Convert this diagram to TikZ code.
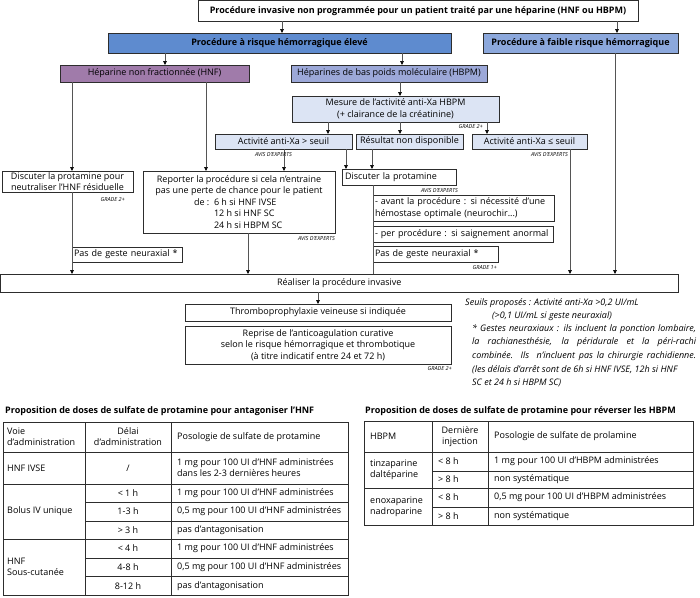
\documentclass[tikz,border=0pt]{standalone}
\usepackage{fontspec}
\setmainfont{Open Sans}
\usetikzlibrary{arrows.meta}
\definecolor{bigblue}{RGB}{94,139,207}
\definecolor{lowblue}{RGB}{140,168,220}
\definecolor{hnfpur}{RGB}{160,123,170}
\definecolor{hbpmlav}{RGB}{156,168,216}
\definecolor{lightbl}{RGB}{220,228,244}
\definecolor{linegr}{RGB}{85,85,85}
\definecolor{bordgr}{RGB}{45,45,45}
\newcommand{\fs}{\fontsize{9}{11.5}\selectfont}
\newcommand{\fsb}{\fontsize{9}{11.5}\selectfont\bfseries}
\newcommand{\bx}[7]{\node[#6, minimum width=#4pt-#2pt, minimum height=#5pt-#3pt] (#1) at ({(#2+#4)/2},{(#3+#5)/2}) {#7};}
\begin{document}
\begin{tikzpicture}[x=1pt,y=-1pt,
  box/.style={draw=bordgr, line width=0.7pt, inner xsep=3pt, inner ysep=1pt, outer sep=0pt, font=\fs, align=center},
  arr/.style={draw=linegr, line width=0.6pt, -{Triangle[length=4pt,width=3.6pt,color=black]}},
  ln/.style={draw=linegr, line width=0.6pt},
  grade/.style={font=\fontsize{5.5}{6}\selectfont\itshape, inner sep=0pt, anchor=east},
  fn/.style={font=\fontsize{9}{11}\selectfont\itshape, inner sep=0pt},
  cell/.style={font=\fontsize{9}{11}\selectfont, inner sep=0pt, align=left},
  ttl/.style={font=\fsb, inner sep=0pt, anchor=west},
  tb/.style={draw=bordgr, line width=0.6pt},
  tbo/.style={draw=bordgr, line width=1pt}]
\useasboundingbox (0,0) rectangle (700,597);

% ---- flowchart boxes
\bx{top}{198}{0.5}{638}{21}{box,font=\fsb}{Procédure invasive non programmée pour un patient traité par une héparine (HNF ou HBPM)}
\bx{big}{108}{33}{451}{53}{box,fill=bigblue,font=\fsb}{Procédure à risque hémorragique élevé}
\bx{low}{483}{33}{678}{53}{box,fill=lowblue,font=\fsb}{Procédure à faible risque hémorragique}
\bx{hnf}{60}{65}{249}{82}{box,fill=hnfpur}{Héparine non fractionnée (HNF)}
\bx{hbpm}{291}{65}{487}{82}{box,fill=hbpmlav}{Héparines de bas poids moléculaire (HBPM)}
\bx{mes}{292}{96}{499}{122}{box,fill=lightbl}{Mesure de l’activité anti-Xa HBPM\\(+ clairance de la créatinine)}
\bx{sup}{215}{134}{352}{149}{box,fill=lightbl}{Activité anti-Xa > seuil}
\bx{res}{356}{134}{463}{149}{box,fill=lightbl}{Résultat non disponible}
\bx{inf}{472}{134}{587}{149}{box,fill=lightbl}{Activité anti-Xa ≤ seuil}
\bx{dhnf}{2}{171}{133}{192}{box}{Discuter la protamine pour\\neutraliser l’HNF résiduelle}
\bx{rep}{143}{171}{335}{233}{box}{Reporter la procédure si cela n’entraine\\pas une perte de chance pour le patient\\\makebox[0pt][r]{de :\ \ }\makebox[50pt][l]{6 h si HNF IVSE}\\\makebox[50pt][l]{12 h si HNF SC}\\\makebox[50pt][l]{24 h si HBPM SC}}
\bx{dpro}{342}{169}{456}{185}{box,text width=108pt,align=left}{Discuter la protamine}
\bx{avant}{373}{195}{554}{221}{box,text width=177pt,align=left,inner xsep=2pt}{- avant la procédure : si nécessité d’une\\hémostase optimale (neurochir...)}
\bx{per}{373}{226}{553}{242}{box,text width=176pt,align=left,inner xsep=2pt}{- per procédure : si saignement anormal}
\bx{pasb}{373}{246}{498}{262}{box,text width=121pt,align=left,inner xsep=2pt}{Pas de geste neuraxial *}
\bx{pasa}{72}{247}{182}{262}{box,text width=106pt,align=left,inner xsep=2pt}{Pas de geste neuraxial *}
\bx{real}{0.5}{274}{678}{292}{box}{Réaliser la procédure invasive}
\bx{thr}{185}{304}{451}{321}{box}{Thromboprophylaxie veineuse si indiquée}
\bx{rep2}{185}{326}{451}{364}{box}{Reprise de l’anticoagulation curative\\selon le risque hémorragique et thrombotique\\(à titre indicatif entre 24 et 72 h)}

% ---- connectors
\draw[arr] (282,0 |- top.south) -- (282,0 |- big.north);
\draw[arr] (617,0 |- top.south) -- (617,0 |- low.north);
\draw[arr] (165,0 |- big.south) -- (165,0 |- hnf.north);
\draw[arr] (402,0 |- big.south) -- (402,0 |- hbpm.north);
\draw[arr] (72,0 |- hnf.south) -- (72,0 |- dhnf.north);
\draw[arr] (206,0 |- hnf.south) -- (206,0 |- rep.north);
\draw[arr] (400,0 |- hbpm.south) -- (400,0 |- mes.north);
\draw[arr] (328,0 |- mes.south) -- (328,0 |- sup.north);
\draw[arr] (400,0 |- mes.south) -- (400,0 |- res.north);
\draw[arr] (487,0 |- mes.south) -- (487,0 |- inf.north);
\draw[arr] (284,0 |- sup.south) -- (284,0 |- rep.north);
\draw[arr] (346,0 |- sup.south) -- (346,0 |- dpro.north);
\draw[arr] (372,0 |- res.south) -- (372,0 |- dpro.north);
\draw[arr] (570,0 |- inf.south) -- (570,0 |- real.north);
\draw[arr] (615,0 |- low.south) -- (615,0 |- real.north);
\draw[arr] (72,0 |- dhnf.south) -- (72,0 |- real.north);
\draw[arr] (248,0 |- rep.south) -- (248,0 |- real.north);
\draw[ln] (373,0 |- dpro.south) -- (373,0 |- real.north);
\draw[arr] (318,0 |- real.south) -- (318,0 |- thr.north);

% ---- grade labels
\node[grade] (g1) at (483,126.5) {GRADE 2+};
\node[grade] (g2) at (292,155) {AVIS D’EXPERTS};
\node[grade] (g3) at (568,155) {AVIS D’EXPERTS};
\node[grade] (g4) at (125,200) {GRADE 2+};
\node[grade] (g5) at (335,239) {AVIS D’EXPERTS};
\node[grade] (g6) at (458,191) {AVIS D’EXPERTS};
\node[grade] (g7) at (497,268) {GRADE 1+};
\node[grade] (g8) at (452,369) {GRADE 2+};

% ---- notes
\node[fn] (s1) at (552,303) {Seuils proposés : Activité anti-Xa >0,2 UI/mL};
\node[fn] (s2) at (552,316) {(>0,1 UI/mL si geste neuraxial)};
\node[fn,anchor=west] (f1) at (472,329) {\makebox[224pt][s]{* Gestes neuraxiaux : ils incluent la ponction lombaire,}};
\node[fn,anchor=west] (f2) at (472,342.5) {\makebox[224pt][s]{la rachianesthésie, la péridurale et la péri-rachi}};
\node[fn,anchor=west] (f3) at (472,356) {\makebox[224pt][s]{combinée.\ \ Ils\ \ n’incluent pas la chirurgie rachidienne.}};
\node[fn,anchor=west] (f4) at (472,369.5) {(les délais d’arrêt sont de 6h si HNF IVSE, 12h si HNF};
\node[fn,anchor=west] (f5) at (472,383) {SC et 24 h si HBPM SC)};

% ---- left table
\node[ttl] (t1) at (5,411) {Proposition de doses de sulfate de protamine pour antagoniser l'HNF};
\draw[tbo] (3,422) rectangle (348,595.5);
\draw[tb] (85,422) -- (85,595.5) (171,422) -- (171,595.5);
\draw[tb] (3,452) -- (348,452) (3,484) -- (348,484) (3,539) -- (348,539);
\draw[tb] (85,502) -- (348,502) (85,521) -- (348,521) (85,558) -- (348,558) (85,576) -- (348,576);
\node[cell,anchor=west] (a1) at (7,437) {Voie\\d'administration};
\node[cell,align=center] (a2) at (128,437) {Délai\\d'administration};
\node[cell,anchor=west] (a3) at (177,437) {Posologie de sulfate de protamine};
\node[cell,anchor=west] (b1) at (7,468) {HNF IVSE};
\node[cell] (b2) at (128,468) {/};
\node[cell,anchor=west] (b3) at (177,468) {1 mg pour 100 UI d'HNF administrées\\dans les 2-3 dernières heures};
\node[cell,anchor=west] (c1) at (7,511.5) {Bolus IV unique};
\node[cell] (c2) at (128,493) {< 1 h};
\node[cell] (c3) at (128,511.5) {1-3 h};
\node[cell] (c4) at (128,530) {> 3 h};
\node[cell,anchor=west] (c5) at (177,493) {1 mg pour 100 UI d'HNF administrées};
\node[cell,anchor=west] (c6) at (177,511.5) {0,5 mg pour 100 UI d'HNF administrées};
\node[cell,anchor=west] (c7) at (177,530) {pas d'antagonisation};
\node[cell,anchor=west] (d1) at (7,567) {HNF\\Sous-cutanée};
\node[cell] (d2) at (128,548.5) {< 4 h};
\node[cell] (d3) at (128,567) {4-8 h};
\node[cell] (d4) at (128,586) {8-12 h};
\node[cell,anchor=west] (d5) at (177,548.5) {1 mg pour 100 UI d'HNF administrées};
\node[cell,anchor=west] (d6) at (177,567) {0,5 mg pour 100 UI d'HNF administrées};
\node[cell,anchor=west] (d7) at (177,586) {pas d'antagonisation};

% ---- right table
\node[ttl] (t2) at (365,411) {Proposition de doses de sulfate de protamine pour réverser les HBPM};
\draw[tbo] (364,421) rectangle (693,525);
\draw[tb] (432,421) -- (432,525) (488,421) -- (488,525);
\draw[tb] (364,452) -- (693,452) (364,488) -- (693,488);
\draw[tb] (432,471) -- (693,471) (432,507) -- (693,507);
\node[cell,anchor=west] (h1) at (370,436.5) {HBPM};
\node[cell,align=center] (h2) at (460,436.5) {Dernière\\injection};
\node[cell,anchor=west] (h3) at (494,436.5) {Posologie de sulfate de prolamine};
\node[cell,anchor=west] (i1) at (370,470) {tinzaparine\\daltéparine};
\node[cell,anchor=west] (i2) at (438,461.5) {< 8 h};
\node[cell,anchor=west] (i3) at (438,479.5) {> 8 h};
\node[cell,anchor=west] (i4) at (494,461.5) {1 mg pour 100 UI d'HBPM administrées};
\node[cell,anchor=west] (i5) at (494,479.5) {non systématique};
\node[cell,anchor=west] (j1) at (370,506.5) {enoxaparine\\nadroparine};
\node[cell,anchor=west] (j2) at (438,497.5) {< 8 h};
\node[cell,anchor=west] (j3) at (438,516) {> 8 h};
\node[cell,anchor=west] (j4) at (494,497.5) {0,5 mg pour 100 UI d'HBPM administrées};
\node[cell,anchor=west] (j5) at (494,516) {non systématique};
\end{tikzpicture}
\end{document}
